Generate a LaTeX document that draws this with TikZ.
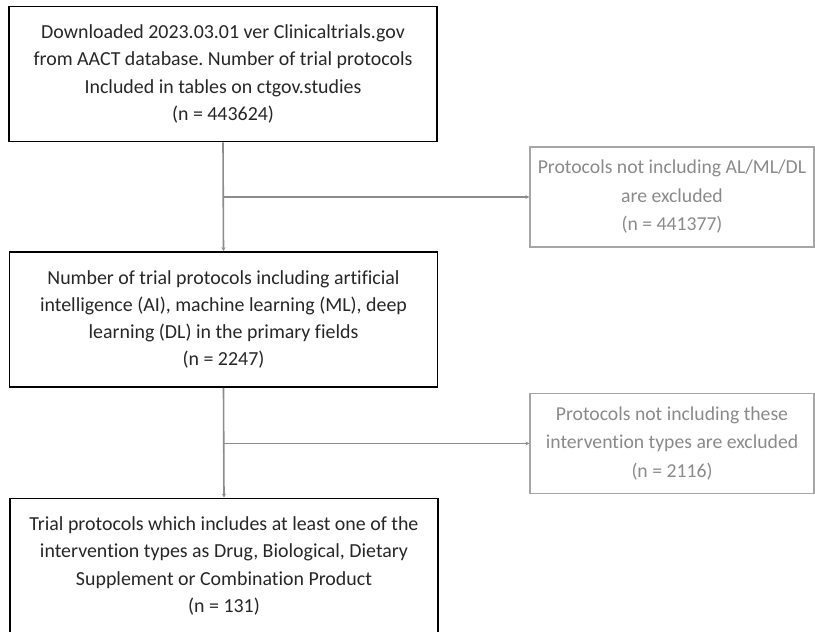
\documentclass[tikz,border=0pt]{standalone}
\usepackage{fontspec}
\setmainfont{Carlito}[Ligatures={NoCommon}]
\usetikzlibrary{arrows.meta,calc}
\definecolor{linegray}{HTML}{8C8C8C}
\definecolor{boxgray}{HTML}{A6A6A6}
\definecolor{txtgray}{HTML}{8A8A8A}
\frenchspacing
\tikzset{
  mainbox/.style={draw=black, line width=1.6pt, minimum width=428pt, minimum height=135pt,
    align=center, inner sep=0pt, font=\fontsize{19.9}{27.3}\selectfont, text=black!85},
  exclbox/.style={draw=boxgray, line width=1.2pt, minimum width=284pt, minimum height=100pt,
    align=center, inner sep=0pt, font=\fontsize{19.7}{28.5}\selectfont, text=txtgray},
  conn/.style={draw=linegray, line width=1.6pt, -{Stealth[length=4pt,width=4pt]}}
}
\begin{document}
\begin{tikzpicture}[x=1pt,y=-1pt]
\useasboundingbox (0,0) rectangle (815,632);
\clip (0,0) rectangle (815,632);
\node[mainbox] (b1) at (223,74) {Downloaded 2023.03.01 ver Clinicaltrials.gov\\from AACT database. Number of trial protocols\\Included in tables on ctgov.studies\\(n = 443624)};
\node[mainbox] (b2) at (223.5,319.5) {Number of trial protocols including artificial\\intelligence (AI), machine learning (ML), deep\\learning (DL) in the primary fields\\(n = 2247)};
\node[mainbox] (b3) at (224,566) {Trial protocols which includes at least one of the\\intervention types as Drug, Biological, Dietary\\Supplement or Combination Product\\(n = 131)};
\node[exclbox] (r1) at (672,197) {Protocols not including AL/ML/DL\\are excluded\\(n = 441377)};
\node[exclbox] (r2) at (672,443.5) {Protocols not including these\\intervention types are excluded\\(n = 2116)};
\coordinate (j1) at (b1.south |- r1.west);
\coordinate (j2) at (b2.south |- r2.west);
\draw[conn] (b1.south) -- (b2.north);
\draw[conn] (j1) -- (r1.west);
\draw[conn] (b2.south) -- (b3.north);
\draw[conn] (j2) -- (r2.west);
\end{tikzpicture}
\end{document}
